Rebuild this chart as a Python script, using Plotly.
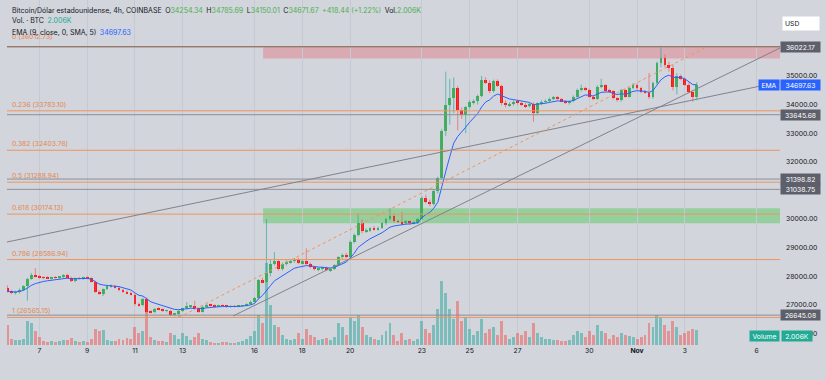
import plotly.graph_objects as go
import pandas as pd

# ---------------- data ----------------
times = pd.date_range("2023-10-05 16:00", periods=174, freq="4h")

opens = [
    27600, 27470, 27420, 27440, 27540, 27650, 27920, 28060,
    27990, 27960, 27950, 27940, 27960, 27950,
    27980, 28050, 27950, 27830, 27930, 27910,
    27950, 27940, 27810, 27470, 27400, 27560,
    27650, 27670, 27610, 27520, 27450, 27410,
    27360, 27020, 26990, 27220, 26760, 26740,
    26870, 26840, 26790, 26800, 26660, 26690,
    26800, 26880, 26960, 26970, 26860, 26760,
    26940, 27010, 26990, 26960, 26980, 26970,
    26930, 26960, 26950, 26970, 26990, 27030,
    27120, 27250, 27860, 27800, 28100, 28420,
    28520, 28260, 28440, 28500, 28530, 28600,
    28460, 28520, 28440, 28320, 28240, 28260,
    28300, 28220, 28250, 28390, 28660, 28760,
    28660, 29200, 29450, 29850, 29580, 29600,
    29680, 29640, 29700, 29850, 30000, 30120,
    29920, 29900, 29850, 29930, 29850, 29880,
    30000, 30750, 30600, 30520, 30980, 31420,
    33060, 34000, 34220, 34570, 33810, 33640,
    33900, 34080, 34120, 34300, 34850, 34770,
    34460, 34820, 34660, 34060, 33980, 34010,
    34100, 34060, 34000, 33950, 34020, 33700,
    34050, 34100, 34120, 34200, 34260, 34180,
    34120, 34040, 34120, 34280, 34510, 34580,
    34520, 34280, 34200, 34630, 34670, 34480,
    34460, 34220, 34150, 34500, 34280, 34580,
    34690, 34570, 34450, 34420, 34260, 34750,
    35440, 35620, 35380, 35270, 34630, 35000,
    34900, 34700, 34450, 34254.34,
]
highs = [
    27680, 27530, 27500, 27580, 27690, 27950, 28120, 28290,
    28040, 28000, 28010, 27990, 28010, 28000,
    28080, 28100, 27990, 27960, 27980, 27990,
    28000, 27970, 27850, 27520, 27580, 27680,
    27720, 27700, 27660, 27560, 27500, 27460,
    27400, 27080, 27260, 27260, 26820, 26900,
    26920, 26880, 26830, 26830, 26720, 26830,
    26900, 27100, 27000, 27150, 26900, 26980,
    27050, 27040, 27020, 27010, 27020, 27000,
    26990, 27000, 26990, 27000, 27060, 27150,
    27280, 27900, 27950, 30000, 28600, 28850,
    28600, 28480, 28560, 28580, 28640, 28650,
    28560, 28980, 28480, 28360, 28300, 28330,
    28340, 28280, 28420, 28700, 28800, 28820,
    29250, 29500, 30200, 29980, 29680, 29720,
    29760, 29740, 29880, 30050, 30380, 30200,
    29980, 30250, 29960, 29960, 29920, 30050,
    30800, 30850, 30680, 31050, 31480, 33150,
    35150, 34900, 34950, 34650, 33900, 33950,
    34150, 34180, 34350, 35000, 34950, 34850,
    34870, 34880, 34700, 34150, 34080, 34150,
    34160, 34100, 34050, 34060, 34080, 34080,
    34150, 34180, 34250, 34300, 34300, 34230,
    34160, 34150, 34320, 34560, 34700, 34620,
    34560, 34330, 34680, 34900, 34720, 34550,
    34500, 34260, 34550, 34560, 34620, 34750,
    34740, 34620, 34500, 35100, 34800, 35500,
    36022, 35750, 35500, 35400, 35100, 35050,
    34950, 34780, 34500, 34785.69,
]
lows = [
    27440, 27380, 27360, 27400, 27500, 27150, 27880, 27960,
    27920, 27900, 27910, 27890, 27920, 27900,
    27940, 27920, 27800, 27790, 27880, 27870,
    27900, 27780, 27420, 27350, 27310, 27520,
    27600, 27580, 27480, 27420, 27380, 27330,
    26980, 26940, 26960, 26720, 26700, 26710,
    26810, 26760, 26740, 26610, 26600, 26565,
    26760, 26850, 26900, 26830, 26720, 26740,
    26900, 26950, 26920, 26930, 26940, 26900,
    26900, 26920, 26920, 26940, 26950, 26990,
    27090, 27200, 27760, 27780, 28000, 28380,
    28200, 28200, 28380, 28450, 28480, 28420,
    28420, 28400, 28280, 28200, 28180, 28200,
    28180, 28150, 28220, 28360, 28600, 28620,
    28640, 29150, 29400, 29500, 29520, 29560,
    29600, 29600, 29660, 29800, 29950, 29880,
    29860, 29780, 29800, 29800, 29820, 29830,
    29980, 30550, 30450, 30480, 30900, 31380,
    32900, 33300, 33700, 33100, 33500, 33000,
    33850, 34000, 34000, 34250, 34720, 34400,
    34420, 34620, 33980, 33900, 33920, 33960,
    34000, 33950, 33880, 33900, 33400, 33650,
    33980, 34050, 34080, 34150, 34150, 34100,
    34020, 34000, 34080, 34240, 34460, 34480,
    34240, 34150, 34150, 34580, 34450, 34420,
    34180, 34100, 34100, 34240, 34250, 34540,
    34520, 34400, 34380, 34200, 34200, 34700,
    35300, 35300, 35150, 34500, 34350, 34850,
    34650, 34400, 34100, 34150.01,
]
closes = [
    27470, 27420, 27440, 27540, 27650, 27920, 28060, 27990,
    27960, 27950, 27940, 27960, 27950, 27980,
    28050, 27950, 27830, 27930, 27910, 27950,
    27940, 27810, 27470, 27400, 27560, 27650,
    27670, 27610, 27520, 27450, 27410, 27360,
    27020, 26990, 27220, 26760, 26740, 26870,
    26840, 26790, 26800, 26660, 26690, 26800,
    26880, 26960, 26970, 26860, 26760, 26940,
    27010, 26990, 26960, 26980, 26970, 26930,
    26960, 26950, 26970, 26990, 27030, 27120,
    27250, 27860, 27800, 28100, 28420, 28520,
    28260, 28440, 28500, 28530, 28600, 28460,
    28520, 28440, 28320, 28240, 28260, 28300,
    28220, 28250, 28390, 28660, 28760, 28660,
    29200, 29450, 29850, 29580, 29600, 29680,
    29640, 29700, 29850, 30000, 30120, 29920,
    29900, 29850, 29930, 29850, 29880, 30000,
    30750, 30600, 30520, 30980, 31420, 33060,
    34000, 34220, 34570, 33810, 33640, 33900,
    34080, 34120, 34300, 34850, 34770, 34460,
    34820, 34660, 34060, 33980, 34010, 34100,
    34060, 34000, 33950, 34020, 33700, 34050,
    34100, 34120, 34200, 34260, 34180, 34120,
    34040, 34120, 34280, 34510, 34580, 34520,
    34280, 34200, 34630, 34670, 34480, 34460,
    34220, 34150, 34500, 34280, 34580, 34690,
    34570, 34450, 34420, 34260, 34750, 35440,
    35620, 35380, 35270, 34630, 35000, 34900,
    34700, 34450, 34254.34, 34671.67,
]
volumes = [
    2680, 800, 670, 670, 800, 3220, 2950, 1880,
    1070, 540, 400, 540, 400, 540,
    670, 670, 940, 540, 400, 540,
    400, 800, 2140, 1880, 2010, 670,
    540, 540, 800, 670, 940, 800,
    2410, 1610, 1880, 5360, 1070, 670,
    540, 540, 400, 1610, 1340, 800,
    1610, 1210, 670, 1070, 1610, 800,
    670, 400, 270, 270, 400, 400,
    270, 270, 400, 540, 800, 1210,
    1880, 4020, 2950, 10990, 5360, 2680,
    2410, 1340, 800, 670, 800, 1610,
    800, 2140, 1340, 1070, 670, 800,
    940, 670, 1070, 2950, 2410, 1340,
    3750, 3220, 4020, 2410, 1340, 1070,
    800, 670, 1340, 1880, 2950, 1340,
    540, 1610, 670, 800, 540, 800,
    3220, 2140, 1610, 2680, 4820, 8580,
    6970, 4820, 3480, 5900, 3220, 3750,
    2140, 1340, 1880, 3480, 1610, 2140,
    2410, 1340, 3220, 1340, 800, 1070,
    1610, 1340, 1880, 1070, 2950, 1610,
    1070, 800, 800, 670, 670, 540,
    540, 670, 1340, 1880, 1610, 1070,
    1880, 1340, 2680, 1880, 1610, 800,
    1340, 1070, 1610, 1340, 1210, 1070,
    800, 1070, 1340, 2950, 2410, 4020,
    3750, 2680, 1880, 3220, 2410, 1340,
    1610, 1880, 2140, 2006,
]

day_ticks = ["2023-10-07", "2023-10-09", "2023-10-11", "2023-10-13", "2023-10-16",
             "2023-10-18", "2023-10-20", "2023-10-23", "2023-10-25", "2023-10-27",
             "2023-10-30", "2023-11-01", "2023-11-03", "2023-11-06"]
day_labels = ["7", "9", "11", "13", "16", "18", "20", "23", "25", "27", "30",
              "<b>Nov</b>", "3", "6"]
price_ticks = [26000, 27000, 28000, 29000, 30000, 31000, 32000, 33000,
               34000, 35000]

fib_ratios = ["0", "0.236", "0.382", "0.5", "0.618", "0.786", "1"]
fib_prices = [36012.73, 33783.10, 32403.76, 31288.94, 30174.13, 28586.94, 26565.15]
level_prices = [36022.17, 33645.68, 31398.82, 31038.75, 26645.08]

ema_value_text = "34697.63"
volume_text = "2.006K"

# ---------------- style ----------------
BG = "#d2d5dc"
GRID = "#c6c9d1"
TXT = "#131722"
UP = "#4caf50"
DN = "#f81818"
UPW = "rgba(38,166,154,0.65)"
DNW = "rgba(239,83,80,0.65)"
FIB = "#ee955e"
FIBTXT = "#e5864e"
GRAY = "#8c8f98"
FONT = "Inter"
FS = 6.8

X0 = "2023-10-05 15:34"
X1 = "2023-11-06 23:30"
PL, PR, PB = 7, 46, 35
PW, PH = 826 - PL - PR, 380 - PB


def px(x):
    return (x - PL) / PW


def py(y):
    return 1 - y / PH


ups = [c >= o for o, c in zip(opens, closes)]

# EMA(9) of closes (the chart's indicator)
ema = []
e = closes[0]
for c in closes:
    e = 0.2 * c + 0.8 * e
    ema.append(e)

fig = go.Figure()

# volume (behind, on y)
fig.add_trace(go.Bar(
    x=times, y=volumes, yaxis="y",
    marker=dict(color=["rgba(38,166,154,0.5)" if u else "rgba(239,83,80,0.5)" for u in ups],
                line=dict(width=0)),
    width=4 * 3600 * 1000 * 0.74, hoverinfo="skip", showlegend=False))

# wicks
for flag, col in ((True, UPW), (False, DNW)):
    wx, wy = [], []
    for t, h, l, u in zip(times, highs, lows, ups):
        if u == flag:
            wx += [t, t, None]
            wy += [l, h, None]
    fig.add_trace(go.Scatter(x=wx, y=wy, yaxis="y2", mode="lines",
                             line=dict(color=col, width=1),
                             hoverinfo="skip", showlegend=False))

# bodies
for flag, col in ((True, UP), (False, DN)):
    bx, bb, bh = [], [], []
    for t, o, c, u in zip(times, opens, closes, ups):
        if u == flag:
            bx.append(t)
            bb.append(min(o, c))
            bh.append(max(abs(c - o), 12))
    fig.add_trace(go.Bar(x=bx, y=bh, base=bb, yaxis="y2",
                         marker=dict(color=col, line=dict(width=0)),
                         width=4 * 3600 * 1000 * 0.72,
                         hoverinfo="skip", showlegend=False))

# EMA
fig.add_trace(go.Scatter(x=times, y=ema, yaxis="y2", mode="lines",
                         line=dict(color="#2962ff", width=1),
                         hoverinfo="skip", showlegend=False))

shapes = []
# zones
shapes.append(dict(type="rect", xref="x", yref="y2", x0="2023-10-16 08:38", x1=X1,
                   y0=35613, y1=36022.17, fillcolor="rgba(242,54,69,0.27)",
                   line=dict(width=0), layer="below"))
shapes.append(dict(type="rect", xref="x", yref="y2", x0="2023-10-16 08:38", x1=X1,
                   y0=29853, y1=30377, fillcolor="rgba(76,200,80,0.45)",
                   line=dict(width=0), layer="below"))
# fib lines
for p in fib_prices:
    shapes.append(dict(type="line", xref="paper", yref="y2", x0=0, x1=1, y0=p, y1=p,
                       line=dict(color=FIB, width=1), layer="above"))
# horizontal drawn levels
for p in level_prices:
    shapes.append(dict(type="line", xref="paper", yref="y2", x0=0, x1=1, y0=p, y1=p,
                       line=dict(color="#6f727a" if p > 36000 else GRAY, width=1),
                       layer="above"))
# trend lines
shapes.append(dict(type="line", xref="x", yref="y2", x0=X0, y0=29200, x1=X1, y1=34789,
                   line=dict(color="#80838c", width=1), layer="above"))
shapes.append(dict(type="line", xref="x", yref="y2", x0="2023-10-15 02:26", y0=26615,
                   x1=X1, y1=35977, line=dict(color="#80838c", width=1), layer="above"))
shapes.append(dict(type="line", xref="x", yref="y2", x0=times[43], y0=fib_prices[-1],
                   x1="2023-11-03 22:00", y1=fib_prices[0],
                   line=dict(color=FIB, width=1, dash="dot"), layer="above"))

ann = []
# fib labels (the 0-level label sits under the EMA legend row, as in the original)
for r, p in zip(fib_ratios, fib_prices):
    ann.append(dict(xref="paper", yref="y2", x=px(10), y=p, xanchor="left",
                    yanchor="bottom", yshift=4 if r == "0" else 0, showarrow=False,
                    text=f"{r} ({p:.2f})", font=dict(family=FONT, size=FS, color=FIBTXT)))

# legend rows
g = "#4caf50"
sp = "\u2002"
row1 = (f"Bitcoin/Dólar estadounidense, 4h, COINBASE{sp}"
        f"O<span style='color:{g}'>34254.34</span>{sp}"
        f"H<span style='color:{g}'>34785.69</span>{sp}"
        f"L<span style='color:{g}'>34150.01</span>{sp}"
        f"C<span style='color:{g}'>34671.67</span>{sp}"
        f"<span style='color:{g}'>+418.44 (+1.22%)</span>{sp}"
        f"Vol.<span style='color:{g}'>{volume_text}</span>")
row2 = f"Vol. · BTC{sp}<span style='color:#22ab94'>{volume_text}</span>"
row3 = f"EMA (9, close, 0, SMA, 5){sp}<span style='color:#2962ff'>{ema_value_text}</span>"
for t, yy in ((row1, 10), (row2, 21), (row3, 32)):
    ann.append(dict(xref="paper", yref="paper", x=px(10), y=py(yy), xanchor="left",
                    yanchor="middle", showarrow=False, text=t,
                    font=dict(family=FONT, size=7, color=TXT)))

# price-scale boxes
for p in level_prices:
    ann.append(dict(xref="paper", yref="y2", x=1, y=p, xanchor="left", yanchor="middle",
                    showarrow=False, text=f"{p:.2f}", bgcolor="#5d606b", borderpad=1,
                    width=37, height=8, align="center",
                    font=dict(family=FONT, size=FS, color="white")))
ema_last = 34697.63
ann.append(dict(xref="paper", yref="y2", x=1, y=ema_last, xanchor="right", yanchor="middle",
                showarrow=False, text="EMA", bgcolor="#2962ff", borderpad=1, width=18,
                height=8, font=dict(family=FONT, size=FS, color="white")))
ann.append(dict(xref="paper", yref="y2", x=1, y=ema_last, xanchor="left", yanchor="middle",
                showarrow=False, text=ema_value_text, bgcolor="#2962ff", borderpad=1,
                width=37, height=8, font=dict(family=FONT, size=FS, color="white")))
ann.append(dict(xref="paper", yref="paper", x=1, y=py(336), xanchor="right",
                yanchor="middle", showarrow=False, text="Volume", bgcolor="#22ab94",
                borderpad=1, width=27, height=8,
                font=dict(family=FONT, size=FS, color="white")))
ann.append(dict(xref="paper", yref="paper", x=1, xshift=1, y=py(336), xanchor="left",
                yanchor="middle", showarrow=False, text=volume_text, bgcolor="#22ab94",
                borderpad=1, width=28, height=8,
                font=dict(family=FONT, size=FS, color="white")))
ann.append(dict(xref="paper", yref="paper", x=px(782), y=py(23.5), xanchor="left",
                yanchor="middle", showarrow=False, text="USD", bgcolor="white",
                borderpad=2, width=32, height=9, align="left",
                font=dict(family=FONT, size=FS, color=TXT)))

fig.update_layout(
    width=826, height=380,
    margin=dict(l=PL, r=PR, t=0, b=PB, autoexpand=False),
    paper_bgcolor=BG, plot_bgcolor=BG,
    barmode="overlay", bargap=0,
    showlegend=False,
    xaxis=dict(type="date", range=[X0, X1], tickvals=day_ticks, ticktext=day_labels,
               showgrid=True, gridcolor=GRID, gridwidth=1, zeroline=False,
               showline=False, ticks="", tickfont=dict(family=FONT, size=FS, color=TXT),
               fixedrange=True, automargin=False),
    yaxis=dict(range=[0, 46230], visible=False, fixedrange=True),
    yaxis2=dict(overlaying="y", side="right", range=[25602, 37653],
                tickvals=price_ticks, ticktext=[f"{v:.2f}" for v in price_ticks],
                showgrid=False, zeroline=False, showline=False, ticks="",
                ticklabelstandoff=5, automargin=False,
                tickfont=dict(family=FONT, size=FS, color=TXT), fixedrange=True),
    shapes=shapes, annotations=ann,
)

fig.write_html(
    "out.html",
    config={"displayModeBar": False},
    post_script="document.body.style.margin='0';"
                "document.body.style.background='%s';" % BG,
)
